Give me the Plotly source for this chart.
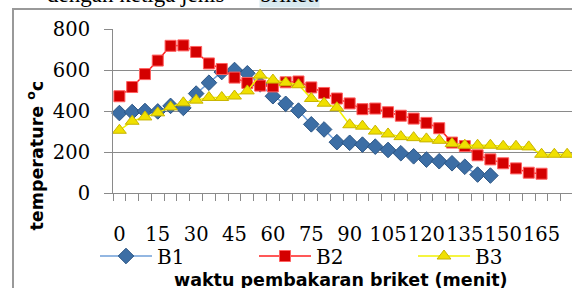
import plotly.graph_objects as go

# ---- data (minutes of burning vs temperature) ----
minutes_b1 = list(range(0, 150, 5))
minutes_b2 = list(range(0, 170, 5))
minutes_b3 = list(range(0, 180, 5))

b1 = [390, 395, 400, 398, 425, 415, 485, 538, 590, 600, 584, 530,
      472, 435, 402, 335, 310, 248, 245, 236, 226, 210, 194, 179,
      163, 155, 145, 128, 90, 85]
b2 = [472, 517, 580, 646, 718, 720, 688, 632, 605, 563, 537, 524,
      520, 540, 544, 515, 488, 461, 437, 409, 412, 394, 377, 363,
      342, 316, 246, 229, 184, 164, 145, 120, 99, 94]
b3 = [306, 350, 371, 391, 420, 440, 453, 466, 466, 473, 498, 575,
      551, 538, 528, 461, 438, 416, 333, 326, 302, 288, 275, 270,
      264, 257, 241, 233, 233, 233, 228, 228, 225, 189, 189, 189]

x_tick_vals = [0, 15, 30, 45, 60, 75, 90, 105, 120, 135, 150, 165]
x_tick_text = ["0", "15", "30", "45", "60", "75", "90", "105", "120", "135", "150", "165"]
y_tick_vals = [0, 200, 400, 600, 800]

series_names = ["B1", "B2", "B3"]

# category boundaries for the small tick marks
boundaries = [t - 2.5 for t in minutes_b3] + [minutes_b3[-1] + 2.5]

W, H = 572, 288
ML, MR, MT, MB = 113, 0, 29, 95
PW, PH = W - ML - MR, H - MT - MB


def px(xp):
    return (xp - ML) / PW


def py(yp):
    return (H - MB - yp) / PH


fig = go.Figure()
fig.add_trace(go.Scatter(
    x=minutes_b1, y=b1, name=series_names[0], mode="lines+markers",
    line=dict(color="#6f9fd8", width=1.5),
    marker=dict(symbol="diamond", size=12, color="#3c6ea5",
                line=dict(color="#2b5584", width=1)),
    cliponaxis=False))
fig.add_trace(go.Scatter(
    x=minutes_b2, y=b2, name=series_names[1], mode="lines+markers",
    line=dict(color="#ff2020", width=1.5),
    marker=dict(symbol="square", size=11, color="#d40000",
                line=dict(color="#ff6060", width=1)),
    cliponaxis=False))
fig.add_trace(go.Scatter(
    x=minutes_b3, y=b3, name=series_names[2], mode="lines+markers",
    line=dict(color="#f2f200", width=1.5),
    marker=dict(symbol="triangle-up", size=12, color="#f0e000",
                line=dict(color="#c8b400", width=1)),
    cliponaxis=False))

grey = "#8a8a8a"
fig.update_layout(
    width=W, height=H,
    margin=dict(l=ML, r=MR, t=MT, b=MB, pad=0),
    paper_bgcolor="white", plot_bgcolor="white",
    showlegend=True,
    legend=dict(orientation="h", x=px(99), xanchor="left",
                y=py(256), yanchor="middle",
                font=dict(family="DejaVu Serif", size=20, color="black"),
                entrywidth=92, entrywidthmode="pixels", itemwidth=52,
                bgcolor="rgba(0,0,0,0)"),
    xaxis=dict(range=[-2.5, 176.9], showgrid=False, zeroline=False,
               showline=True, linecolor=grey, linewidth=1,
               tickmode="array", tickvals=x_tick_vals, ticktext=x_tick_text,
               ticks="", ticklabelstandoff=24, tickangle=0,
               tickfont=dict(family="DejaVu Serif", size=19.5, color="black"),
               minor=dict(tickmode="array", tickvals=boundaries,
                          ticks="outside", ticklen=7, tickcolor=grey,
                          tickwidth=1, showgrid=False)),
    yaxis=dict(range=[0, 800], tickmode="array", tickvals=y_tick_vals,
               showgrid=True, gridcolor=grey, gridwidth=1, zeroline=False,
               showline=True, linecolor=grey, linewidth=1,
               ticks="outside", ticklen=8, tickcolor=grey,
               ticklabelstandoff=10,
               tickfont=dict(family="DejaVu Serif", size=19.5, color="black")),
    shapes=[dict(type="rect", xref="paper", yref="paper",
                 x0=px(13), x1=1.2, y0=py(9), y1=-1.0,
                 line=dict(color="#999999", width=2), layer="below")],
    annotations=[
        dict(text="temperature <sup>o</sup>c", textangle=-90,
             xref="paper", yref="paper", x=px(35), y=py(155.5),
             xanchor="center", yanchor="middle", showarrow=False,
             font=dict(family="DejaVu Sans", size=17.5, color="black", weight="bold")),
        dict(text="waktu pembakaran briket (menit)",
             xref="paper", yref="paper", x=px(341), y=py(279.5),
             xanchor="center", yanchor="middle", showarrow=False,
             font=dict(family="DejaVu Sans", size=17.5, color="black", weight="bold")),
        dict(text="dengan ketiga jenis",
             xref="paper", yref="paper", x=px(46), y=py(8),
             xanchor="left", yanchor="bottom", showarrow=False, borderpad=0,
             font=dict(family="Liberation Serif", size=23, color="black")),
        dict(text="briket.",
             xref="paper", yref="paper", x=px(259), y=py(8),
             xanchor="left", yanchor="bottom", showarrow=False, borderpad=0,
             bgcolor="#d8e9ef",
             font=dict(family="Liberation Serif", size=23, color="black")),
    ],
)

fig.write_html("out.html", config={"displayModeBar": False},
               post_script="document.body.style.margin='0';")
